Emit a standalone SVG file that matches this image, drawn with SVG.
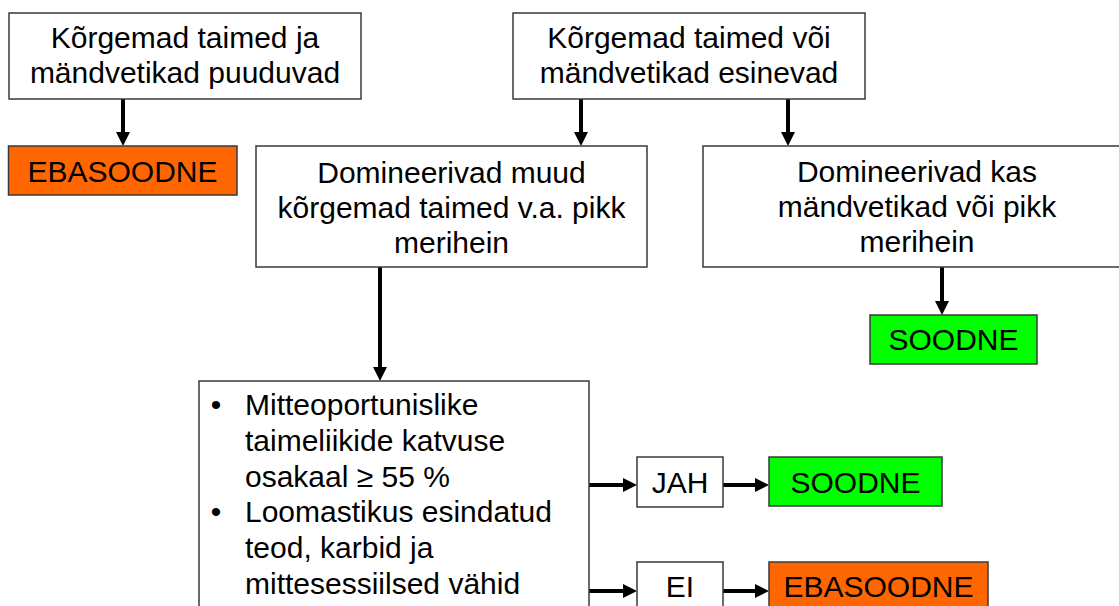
<svg xmlns="http://www.w3.org/2000/svg" width="1119" height="606" viewBox="0 0 1119 606">
<style>
.box{fill:#ffffff;stroke:#3a3a3a;stroke-width:1.5}
.or{fill:#ff6600;stroke:#3a3a3a;stroke-width:1.5}
.gr{fill:#00ff00;stroke:#3a3a3a;stroke-width:1.5}
text{font-family:"Liberation Sans",Arial,sans-serif;font-size:30px;fill:#000}
.c{text-anchor:middle}
.conn{stroke:#000;stroke-width:4;fill:none;marker-end:url(#ah)}
</style>
<defs>
<marker id="ah" markerUnits="userSpaceOnUse" markerWidth="14" markerHeight="14" viewBox="0 0 14 14" refX="0" refY="7" orient="auto">
<path d="M0,0 L14,7 L0,14 Z" fill="#000"/>
</marker>
</defs>
<rect width="1119" height="606" fill="#ffffff"/>
<g id="connectors">
<path class="conn" d="M123,99 V132"/>
<path class="conn" d="M581,99 V132"/>
<path class="conn" d="M788,99 V132"/>
<path class="conn" d="M942,267 V301"/>
<path class="conn" d="M380,267 V367"/>
<path class="conn" d="M589,485 H623"/>
<path class="conn" d="M723,485 H755"/>
<path class="conn" d="M589,591 H623"/>
<path class="conn" d="M723,591 H755"/>
</g>
<g id="n1">
<rect class="box" x="9" y="13" width="352" height="86"/>
<text class="c" x="185" y="48">Kõrgemad taimed ja</text>
<text class="c" x="185" y="83">mändvetikad puuduvad</text>
</g>
<g id="n2">
<rect class="box" x="513" y="13" width="352" height="86"/>
<text class="c" x="689" y="48">Kõrgemad taimed või</text>
<text class="c" x="689" y="83">mändvetikad esinevad</text>
</g>
<g id="n3">
<rect class="or" x="8.5" y="146" width="228.5" height="49"/>
<text class="c" x="122.5" y="182">EBASOODNE</text>
</g>
<g id="n4">
<rect class="box" x="256" y="146" width="391" height="121"/>
<text class="c" x="451.5" y="183">Domineerivad muud</text>
<text class="c" x="451.5" y="218">kõrgemad taimed v.a. pikk</text>
<text class="c" x="451.5" y="253">merihein</text>
</g>
<g id="n5">
<rect class="box" x="703" y="146" width="428" height="121"/>
<text class="c" x="917" y="182">Domineerivad kas</text>
<text class="c" x="917" y="217">mändvetikad või pikk</text>
<text class="c" x="917" y="252">merihein</text>
</g>
<g id="n6">
<rect class="gr" x="870" y="315" width="167" height="49"/>
<text class="c" x="953.5" y="350">SOODNE</text>
</g>
<g id="n7">
<rect class="box" x="199" y="381" width="390" height="240"/>
<text class="c" x="216" y="415">•</text>
<text x="245" y="415">Mitteoportunislike</text>
<text x="245" y="451">taimeliikide katvuse</text>
<text x="245" y="487">osakaal ≥ 55 %</text>
<text class="c" x="216" y="522">•</text>
<text x="245" y="522">Loomastikus esindatud</text>
<text x="245" y="558">teod, karbid ja</text>
<text x="245" y="594">mittesessiilsed vähid</text>
</g>
<g id="n8">
<rect class="box" x="637" y="457" width="86" height="50"/>
<text class="c" x="680" y="493">JAH</text>
</g>
<g id="n9">
<rect class="gr" x="769" y="457" width="173" height="49"/>
<text class="c" x="855.5" y="493">SOODNE</text>
</g>
<g id="n10">
<rect class="box" x="637" y="562" width="86" height="60"/>
<text class="c" x="680" y="597">EI</text>
</g>
<g id="n11">
<rect class="or" x="769" y="562" width="219" height="60"/>
<text class="c" x="878.5" y="597">EBASOODNE</text>
</g>
</svg>
